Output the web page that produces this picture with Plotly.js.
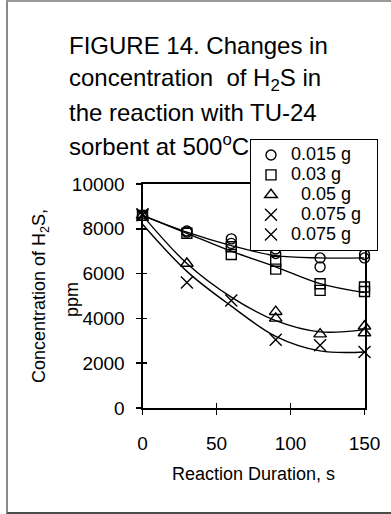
<!DOCTYPE html>
<html>
<head>
<meta charset="utf-8">
<script src="https://cdn.plot.ly/plotly-3.0.1.min.js"></script>
<style>
  html, body { margin: 0; padding: 0; background: #fff; }
  #wrap { position: relative; width: 391px; height: 514px; overflow: hidden; }
  #chart { position: absolute; left: 0; top: 0; width: 391px; height: 514px; }
  #frame { position: absolute; left: 6px; top: 0px; width: 400px; height: 510px;
           border-left: 2px solid #8a8a8a; border-top: 2px solid #9a9a9a; border-bottom: 2px solid #4a4a4a;
           pointer-events: none; }
</style>
</head>
<body>
<div id="wrap">
  <div id="chart"></div>
  <div id="frame"></div>
</div>
<script>
// ---- data ----
const seriesNames = ["0.015 g", "0.03 g", "\u00a0\u00a00.05 g", "\u00a0\u00a00.075 g\u00a0\u00a0", "0.075 g"];

const circleX = [0, 30, 30, 60, 60, 90, 90, 120, 120, 150, 150];
const circleY = [8600, 7900, 7850, 7550, 7350, 7100, 6900, 6700, 6300, 6850, 6700];

const squareX = [0, 30, 60, 60, 90, 90, 120, 120, 150, 150];
const squareY = [8600, 7800, 7200, 6850, 6550, 6200, 5550, 5250, 5400, 5200];

const triangleX = [0, 30, 90, 90, 120, 150, 150];
const triangleY = [8600, 6450, 4300, 4000, 3300, 3650, 3350];

const crossAX = [0, 30, 60, 90, 120, 150];
const crossAY = [8650, 5600, 4800, 3050, 2800, 2500];

const crossBX = [0];
const crossBY = [8600];

const fitTime = [0, 30, 60, 90, 120, 150];
const fit015 = [8600, 7850, 7250, 6800, 6700, 6700];
const fit03  = [8600, 7800, 7000, 6300, 5550, 5150];
const fit05  = [8600, 6450, 4950, 3900, 3400, 3500];
const fit075 = [8200, 6100, 4550, 3200, 2550, 2500];

const xTicks = [0, 50, 100, 150];
const yTicks = [0, 2000, 4000, 6000, 8000, 10000];

const titleLines = [
  "FIGURE 14. Changes in",
  "concentration\u00a0 of H<sub>2</sub>S in",
  "the reaction with TU-24",
  "sorbent at 500<sup>o</sup>C"
];
const yTitleLines = ["Concentration of H<sub>2</sub>S,", "ppm"];
const xTitleText = "Reaction Duration, s";

// ---- chart ----
const W = 391, H = 514;
const px = v => v / W;
const py = v => (H - v) / H;

const arial = "Liberation Sans, Arial, sans-serif";

function fitLine(y) {
  return { x: fitTime, y: y, mode: "lines", type: "scatter", showlegend: false, cliponaxis: false,
           hoverinfo: "skip", line: { color: "#000", width: 1.4, shape: "spline", smoothing: 1 } };
}
function markers(x, y, name, symbol, size) {
  return { x: x, y: y, name: '<span style="font-size:18px">' + name + '</span>',
           mode: "markers", type: "scatter", cliponaxis: false,
           marker: { symbol: symbol, size: size, color: "#000", line: { color: "#000", width: 1.4 } } };
}

const traces = [
  fitLine(fit015), fitLine(fit03), fitLine(fit05), fitLine(fit075),
  markers(circleX, circleY, seriesNames[0], "circle-open", 10),
  markers(squareX, squareY, seriesNames[1], "square-open", 10),
  markers(triangleX, triangleY, seriesNames[2], "triangle-up-open", 11),
  markers(crossAX, crossAY, seriesNames[3], "x-thin-open", 12),
  markers(crossBX, crossBY, seriesNames[4], "x-thin-open", 12),
  { x: [], y: [], xaxis: "x2", yaxis: "y2", type: "scatter", mode: "markers", showlegend: false, hoverinfo: "skip" }
];

const annotations = [];
const titleCenters = [45, 79, 112, 145];
titleLines.forEach((t, i) => annotations.push({
  text: t, xref: "paper", yref: "paper", x: px(67), y: py(titleCenters[i]),
  xanchor: "left", yanchor: "middle", showarrow: false,
  font: { family: arial, size: 24, color: "#000" }
}));
annotations.push({
  text: yTitleLines[0], xref: "paper", yref: "paper", x: px(40), y: py(296),
  xanchor: "center", yanchor: "middle", textangle: -90, showarrow: false,
  font: { family: arial, size: 18, color: "#000" }
});
annotations.push({
  text: yTitleLines[1], xref: "paper", yref: "paper", x: px(72), y: py(300),
  xanchor: "center", yanchor: "middle", textangle: -90, showarrow: false,
  font: { family: arial, size: 18, color: "#000" }
});
annotations.push({
  text: xTitleText, xref: "paper", yref: "paper", x: px(253), y: py(474),
  xanchor: "center", yanchor: "middle", showarrow: false,
  font: { family: arial, size: 18, color: "#000" }
});

const xDom = [px(142.5), px(364.5)];
const yDom = [py(408), py(184)];

const layout = {
  width: W, height: H,
  margin: { l: 0, r: 0, t: 0, b: 0, pad: 0 },
  paper_bgcolor: "#fff", plot_bgcolor: "rgba(0,0,0,0)",
  showlegend: true,
  font: { family: arial, color: "#000" },
  xaxis: {
    domain: xDom, range: [0, 150], tickvals: xTicks, ticktext: xTicks.map(String),
    ticks: "outside", ticklen: 5, tickwidth: 1.5, tickcolor: "#000",
    showline: true, linewidth: 2, linecolor: "#000", mirror: true,
    showgrid: false, zeroline: false, ticklabelstandoff: 12,
    tickfont: { family: arial, size: 19, color: "#000" }, fixedrange: true
  },
  yaxis: {
    domain: yDom, range: [0, 10000], tickvals: yTicks, ticktext: yTicks.map(String),
    ticks: "outside", ticklen: 5, tickwidth: 1.5, tickcolor: "#000",
    showline: true, linewidth: 2, linecolor: "#000", mirror: true,
    showgrid: false, zeroline: false, ticklabelstandoff: 7,
    tickfont: { family: arial, size: 19, color: "#000" }, fixedrange: true
  },
  xaxis2: {
    overlaying: "x", anchor: "y2", domain: xDom, range: [0, 150], tickvals: xTicks,
    ticks: "inside", ticklen: 5, tickwidth: 1.5, tickcolor: "#000",
    showticklabels: false, showline: false, showgrid: false, zeroline: false, side: "bottom"
  },
  yaxis2: {
    overlaying: "y", anchor: "x2", domain: yDom, range: [0, 10000], tickvals: yTicks,
    ticks: "inside", ticklen: 4, tickwidth: 1.5, tickcolor: "#000",
    showticklabels: false, showline: false, showgrid: false, zeroline: false, side: "left"
  },
  legend: {
    x: px(250), y: py(139), xanchor: "left", yanchor: "top",
    bgcolor: "#fff", bordercolor: "#000", borderwidth: 1,
    font: { family: arial, size: 13, color: "#000" },
    tracegroupgap: 0, itemwidth: 30
  },
  annotations: annotations
};

Plotly.newPlot("chart", traces, layout, { staticPlot: true, displayModeBar: false });
</script>
</body>
</html>
